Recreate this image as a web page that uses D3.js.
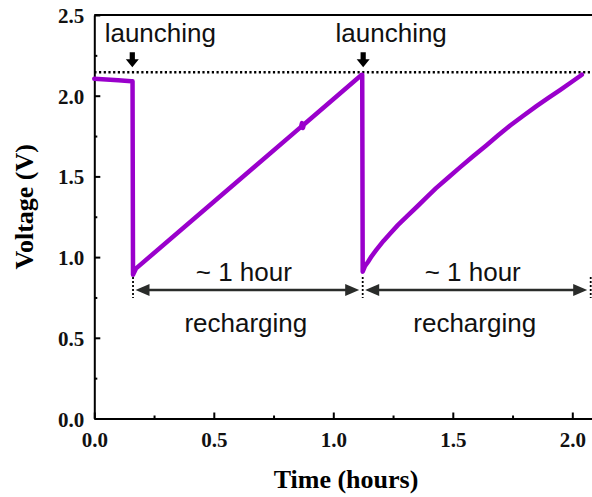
<!DOCTYPE html>
<html>
<head>
<meta charset="utf-8">
<script src="https://cdn.jsdelivr.net/npm/d3@7"></script>
<style>
  html, body { margin: 0; padding: 0; background: #fff; }
  svg { display: block; }
</style>
</head>
<body>
<svg id="chart" width="592" height="497"></svg>
<script>
// Measured voltage during two launch / recharge cycles
const timeHours = [0, 0.05, 0.10, 0.155, 0.160, 0.162, 0.175, 0.50, 0.865, 0.869, 0.873, 0.877, 1.119,
  1.121, 1.123, 1.133, 1.145, 1.16, 1.18, 1.21, 1.24, 1.27, 1.31, 1.35, 1.39, 1.43, 1.48, 1.53, 1.585,
  1.64, 1.69, 1.74, 1.795, 1.85, 1.90, 1.95, 2.00, 2.04];
const voltage = [2.105, 2.10, 2.095, 2.09, 2.09, 0.89, 0.93, 1.343, 1.807, 1.83, 1.80, 1.822, 2.13,
  2.13, 0.91, 0.945, 0.97, 1.005, 1.045, 1.10, 1.15, 1.198, 1.256, 1.312, 1.37, 1.427, 1.492, 1.556, 1.625,
  1.692, 1.755, 1.815, 1.876, 1.935, 1.986, 2.036, 2.088, 2.13];

const fullChargeV = 2.145;            // dotted reference level
const launchTimes = [0.159, 1.125];   // "launching" markers
const rechargeBounds = [0.162, 1.123, 2.077];  // ends of each ~1 hour recharge span

const xTicks = [0, 0.5, 1.0, 1.5, 2.0];
const xMinorTicks = [0.25, 0.75, 1.25, 1.75];
const yTicks = [0, 0.5, 1.0, 1.5, 2.0, 2.5];
const yMinorTicks = [0.25, 0.75, 1.25, 1.75, 2.25];

const svg = d3.select("#chart");
const x = d3.scaleLinear().domain([0, 2.1]).range([94.3, 596.2]);
const y = d3.scaleLinear().domain([0, 2.5]).range([418.5, 15]);

const serif = "'Liberation Serif', 'Times New Roman', serif";
const sans = "'Liberation Sans', Arial, sans-serif";

// Axes with inward ticks
svg.append("g").attr("transform", `translate(0,${y(0)})`)
  .call(d3.axisBottom(x).tickValues(xTicks).tickSize(-6).tickSizeOuter(0).tickPadding(14).tickFormat(d3.format(".1f")));
svg.append("g").attr("transform", `translate(0,${y(0)})`)
  .call(d3.axisBottom(x).tickValues(xMinorTicks).tickSize(-3).tickFormat(""))
  .call(g => g.select(".domain").remove());
const yAxis = svg.append("g").attr("transform", `translate(${x(0)},0)`)
  .call(d3.axisLeft(y).tickValues(yTicks).tickSize(-6).tickSizeOuter(0).tickPadding(10).tickFormat(d3.format(".1f")));
svg.append("g").attr("transform", `translate(${x(0)},0)`)
  .call(d3.axisLeft(y).tickValues(yMinorTicks).tickSize(-3).tickFormat(""))
  .call(g => g.select(".domain").remove());

svg.selectAll(".domain").attr("stroke", "#000").attr("stroke-width", 2);
svg.selectAll(".tick line").attr("stroke", "#000").attr("stroke-width", 2);
svg.selectAll(".tick text")
  .attr("font-family", serif).attr("font-weight", "bold").attr("font-size", 21).attr("fill", "#111");
yAxis.selectAll(".tick text").attr("dy", "0.36em");

// Top and right frame
svg.append("path")
  .attr("d", `M${x(0)},${y(2.5)}H${x(2.1)}V${y(0)}`)
  .attr("fill", "none").attr("stroke", "#000").attr("stroke-width", 2);

// Axis titles
svg.append("text")
  .attr("x", 346).attr("y", 488)
  .attr("text-anchor", "middle")
  .attr("font-family", serif).attr("font-weight", "bold").attr("font-size", 26)
  .text("Time (hours)");
svg.append("text")
  .attr("transform", `translate(33,${(y(0) + y(2.5)) / 2 - 10}) rotate(-90)`)
  .attr("text-anchor", "middle")
  .attr("font-family", serif).attr("font-weight", "bold").attr("font-size", 26)
  .text("Voltage (V)");

// Full-charge reference level
svg.append("line")
  .attr("x1", x(0)).attr("x2", 592)
  .attr("y1", y(fullChargeV)).attr("y2", y(fullChargeV))
  .attr("stroke", "#000").attr("stroke-width", 2.4).attr("stroke-dasharray", "2.2,2.5");

// Voltage trace
const pts = timeHours.map((t, i) => [t, voltage[i]]);
svg.append("path")
  .datum(pts)
  .attr("d", d3.line().x(d => x(d[0])).y(d => y(d[1])))
  .attr("fill", "none").attr("stroke", "#9A00CC").attr("stroke-width", 4.5)
  .attr("stroke-linejoin", "round").attr("stroke-linecap", "round");

// Launch markers
const tipY = y(fullChargeV) - 5;
launchTimes.forEach(t => {
  const cx = x(t);
  svg.append("path")
    .attr("d", `M${cx - 2.6},${tipY - 15}H${cx + 2.6}V${tipY - 8}H${cx + 6.5}L${cx},${tipY}L${cx - 6.5},${tipY - 8}H${cx - 2.6}Z`)
    .attr("fill", "#000");
  svg.append("text")
    .attr("x", cx + 28).attr("y", 42)
    .attr("text-anchor", "middle")
    .attr("font-family", sans).attr("font-size", 26).attr("fill", "#111")
    .text("launching");
});

// Recharge spans
const spanY = 290;
const arrowCol = "#2a2c2a";
rechargeBounds.forEach(t => {
  svg.append("line")
    .attr("x1", x(t)).attr("x2", x(t))
    .attr("y1", spanY - 13).attr("y2", spanY + 8)
    .attr("stroke", "#000").attr("stroke-width", 1.8).attr("stroke-dasharray", "2,2");
});
function head(tipX, dir) {
  const len = 14, half = 6;
  return `M${tipX},${spanY}L${tipX + dir * len},${spanY - half}L${tipX + dir * len},${spanY + half}Z`;
}
for (let i = 0; i < rechargeBounds.length - 1; i++) {
  const a = x(rechargeBounds[i]) + 2.5;
  const b = x(rechargeBounds[i + 1]) - 3.5;
  svg.append("line")
    .attr("x1", a + 6).attr("x2", b - 6).attr("y1", spanY).attr("y2", spanY)
    .attr("stroke", arrowCol).attr("stroke-width", 2.4);
  svg.append("path").attr("d", head(a, 1)).attr("fill", arrowCol);
  svg.append("path").attr("d", head(b, -1)).attr("fill", arrowCol);
  const mid = (x(rechargeBounds[i]) + x(rechargeBounds[i + 1])) / 2;
  svg.append("text")
    .attr("x", mid - 4).attr("y", 281)
    .attr("text-anchor", "middle")
    .attr("font-family", sans).attr("font-size", 26).attr("fill", "#111")
    .text("~ 1 hour");
  svg.append("text")
    .attr("x", mid - 2).attr("y", 332)
    .attr("text-anchor", "middle")
    .attr("font-family", sans).attr("font-size", 26).attr("fill", "#111")
    .text("recharging");
}
</script>
</body>
</html>
